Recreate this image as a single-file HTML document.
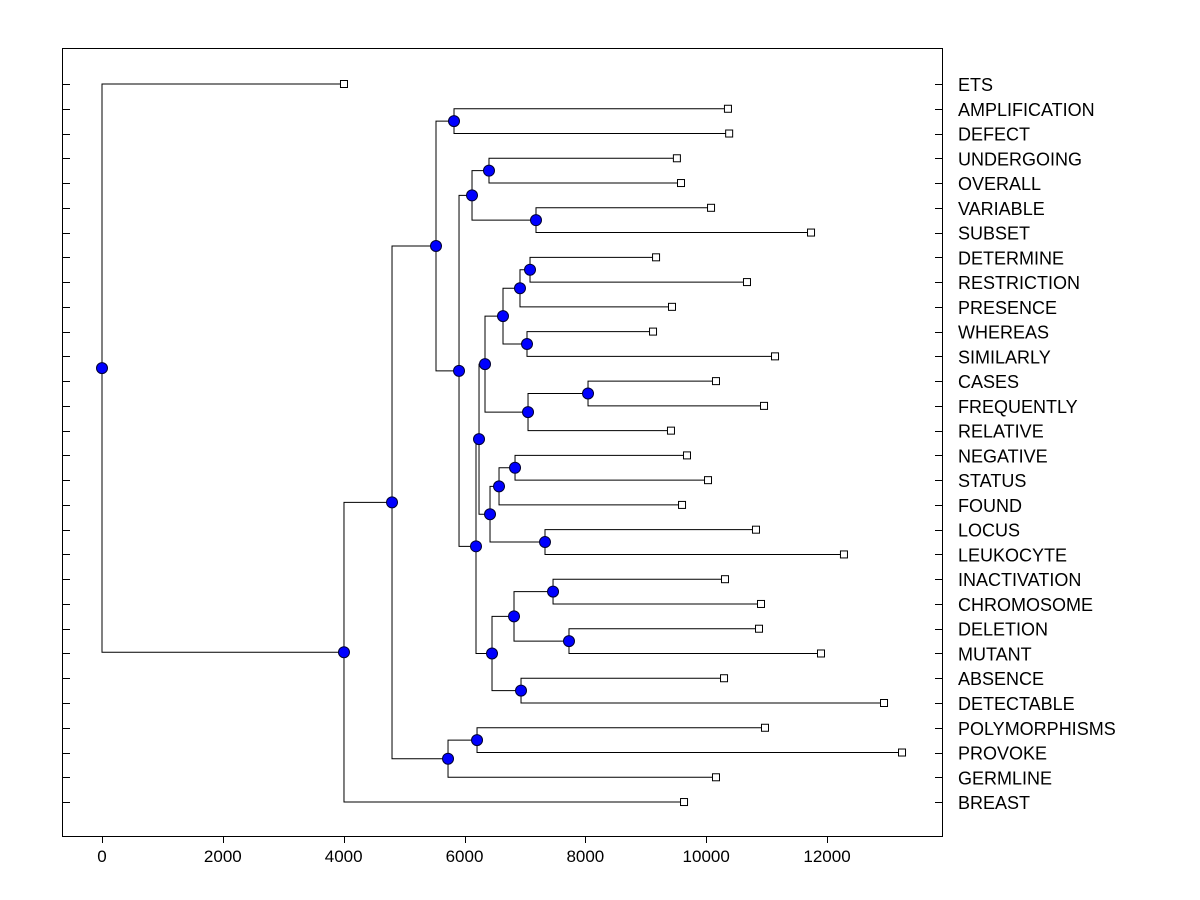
<!DOCTYPE html>
<html><head><meta charset="utf-8"><style>
html,body{margin:0;padding:0;background:#fff;}
svg{display:block;font-family:"Liberation Sans",Arial,sans-serif;}
</style></head><body>
<svg id="chart" width="1200" height="900" viewBox="0 0 1200 900"></svg>
<script>
const leafNames = ["ETS","AMPLIFICATION","DEFECT","UNDERGOING","OVERALL","VARIABLE","SUBSET","DETERMINE","RESTRICTION","PRESENCE","WHEREAS","SIMILARLY","CASES","FREQUENTLY","RELATIVE","NEGATIVE","STATUS","FOUND","LOCUS","LEUKOCYTE","INACTIVATION","CHROMOSOME","DELETION","MUTANT","ABSENCE","DETECTABLE","POLYMORPHISMS","PROVOKE","GERMLINE","BREAST"];
const leafValues = [4005,10360,10380,9515,9583,10080,11735,9170,10675,9434,9120,11139,10162,10957,9417,9682,10030,9600,10824,12280,10311,10907,10874,11900,10295,12943,10973,13241,10162,9633];
// internal nodes: name, childA, childB, merge value
const nodeNames = ["F","I","J","H","T","R","S","P","U","Q","N","X","V","W","O","L","AA","BB","Y","Z","M","K","G","C","E","D","B","A","ROOT"];
const nodeChildA = ["AMPLIFICATION","UNDERGOING","VARIABLE","I","DETERMINE","T","WHEREAS","R","CASES","U","P","NEGATIVE","X","LOCUS","V","N","INACTIVATION","DELETION","AA","ABSENCE","Y","L","H","F","POLYMORPHISMS","E","C","B","ETS"];
const nodeChildB = ["DEFECT","OVERALL","SUBSET","J","RESTRICTION","PRESENCE","SIMILARLY","S","FREQUENTLY","RELATIVE","Q","STATUS","FOUND","LEUKOCYTE","W","O","CHROMOSOME","MUTANT","BB","DETECTABLE","Z","M","K","G","PROVOKE","GERMLINE","D","BREAST","A"];
const nodeValues = [5826,6405,7183,6124,7084,6918,7034,6637,8044,7051,6339,6836,6571,7332,6422,6240,7465,7729,6819,6935,6455,6190,5909,5528,6207,5727,4800,4005,0];
const xTicks = [0,2000,4000,6000,8000,10000,12000];

const svg = document.getElementById('chart');
const NS = "http://www.w3.org/2000/svg";
const X0 = 102, XS = 0.06042;
const xScale = v => X0 + v * XS;
const yScale = i => 84 + i * 24.76;
function mk(tag, attrs){const e=document.createElementNS(NS,tag);for(const k in attrs)e.setAttribute(k,attrs[k]);svg.appendChild(e);return e;}

const frame = mk('rect',{x:62.5,y:48.5,width:880,height:788,fill:'none',stroke:'#000','stroke-width':1});



const pos = {};
leafNames.forEach((n,i)=>{pos[n]={x:xScale(leafValues[i]),y:yScale(i)};});
nodeNames.forEach((n,i)=>{
  const a=pos[nodeChildA[i]], b=pos[nodeChildB[i]];
  pos[n]={x:xScale(nodeValues[i]),y:(a.y+b.y)/2};
});

leafNames.forEach((n,i)=>{
  const y=Math.round(yScale(i))+0.5;
  const t=mk('line',{x1:62,y1:y,x2:70,y2:y,stroke:'#000'});
  
  
  const t2=mk('line',{x1:935,y1:y,x2:943,y2:y,stroke:'#000'});
  
  
  const lb=mk('text',{x:958,y:yScale(i)+7,'font-size':18,fill:'#000'});
  lb.textContent=n;
  
  
});
xTicks.forEach(v=>{
  const x=Math.round(xScale(v))+0.5;
  const t=mk('line',{x1:x,y1:837,x2:x,y2:843,stroke:'#000'});
  
  
  const lb=mk('text',{x:xScale(v),y:862,'font-size':17,'text-anchor':'middle',fill:'#000'});
  lb.textContent=v;
  
  
});
nodeNames.forEach((n,i)=>{
  const p=pos[n], a=pos[nodeChildA[i]], b=pos[nodeChildB[i]];
  const d=`M${a.x},${a.y}H${p.x}V${b.y}H${b.x}`;
  const br=mk('path',{d:d,fill:'none',stroke:'#000','stroke-width':1});
  
  
});
leafNames.forEach(n=>{
  const p=pos[n];
  const s=mk('rect',{x:p.x-3.5,y:p.y-3.5,width:7,height:7,fill:'#fff',stroke:'#000'});
  
  
});
nodeNames.forEach(n=>{
  const p=pos[n];
  const c=mk('circle',{cx:p.x,cy:p.y,r:5.5,fill:'#0000ff',stroke:'#000033','stroke-width':1});
  
  
});
</script>
</body></html>
